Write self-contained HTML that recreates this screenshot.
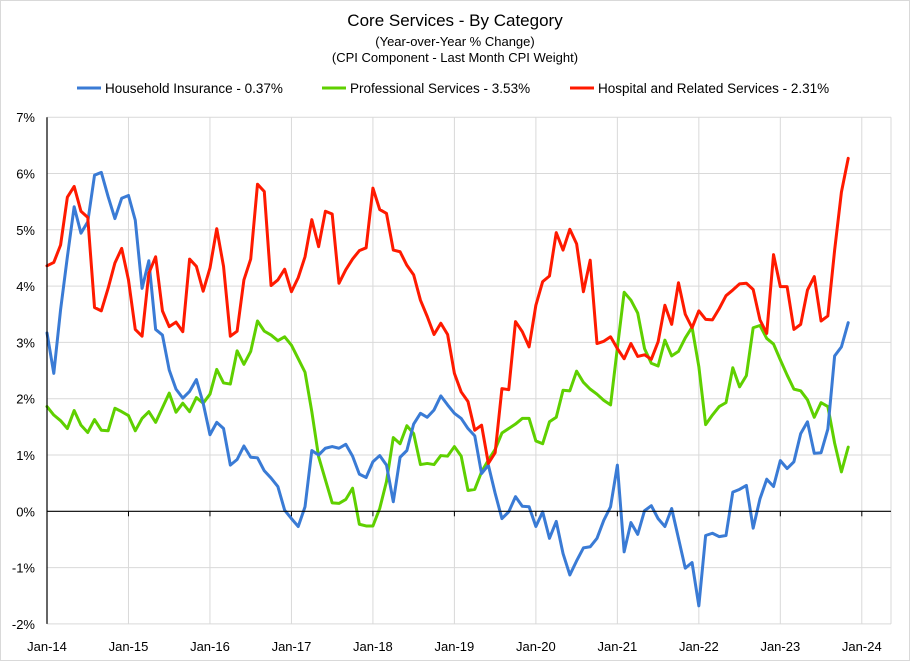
<!DOCTYPE html>
<html><head><meta charset="utf-8"><style>
html,body{margin:0;padding:0;background:#fff;}
svg{display:block;font-family:"Liberation Sans",Arial,sans-serif;}
</style></head><body>
<svg id="chart" width="910" height="661" viewBox="0 0 910 661" xmlns="http://www.w3.org/2000/svg">
<rect x="0.5" y="0.5" width="909" height="660" fill="#fff" stroke="#d9d9d9"/>
<text x="455" y="26" text-anchor="middle" font-size="17" fill="#000">Core Services  - By Category</text>
<text x="455" y="46" text-anchor="middle" font-size="13" fill="#000">(Year-over-Year % Change)</text>
<text x="455" y="62" text-anchor="middle" font-size="13" fill="#000">(CPI Component - Last Month CPI Weight)</text>
<g id="legend">
<line x1="77" y1="88" x2="101" y2="88" stroke="#3a7bd5" stroke-width="3"/>
<text x="105" y="93" font-size="13.5">Household Insurance - 0.37%</text>
<line x1="322" y1="88" x2="346" y2="88" stroke="#5fd000" stroke-width="3"/>
<text x="350" y="93" font-size="13.5">Professional Services - 3.53%</text>
<line x1="570" y1="88" x2="594" y2="88" stroke="#ff1a00" stroke-width="3"/>
<text x="598" y="93" font-size="13.5">Hospital and Related Services - 2.31%</text>
</g>
<g id="grid"></g>
<g id="series"></g>
<g id="axes"></g>
</svg>
<script>
const yTicks = [-2,-1,0,1,2,3,4,5,6,7];
const yTickLabels = ["-2%","-1%","0%","1%","2%","3%","4%","5%","6%","7%"];
const xTickMonths = [0,12,24,36,48,60,72,84,96,108,120];
const xTickLabels = ["Jan-14","Jan-15","Jan-16","Jan-17","Jan-18","Jan-19","Jan-20","Jan-21","Jan-22","Jan-23","Jan-24"];
const household = [3.17,2.45,3.58,4.52,5.41,4.94,5.14,5.97,6.02,5.59,5.2,5.56,5.61,5.17,3.96,4.45,3.23,3.13,2.51,2.17,2.01,2.13,2.34,1.92,1.36,1.58,1.47,0.82,0.92,1.16,0.96,0.95,0.72,0.59,0.44,0.02,-0.13,-0.27,0.08,1.08,1.0,1.12,1.15,1.12,1.19,0.98,0.66,0.6,0.88,0.99,0.82,0.17,0.96,1.08,1.55,1.74,1.67,1.8,2.05,1.89,1.74,1.65,1.47,1.34,0.67,0.82,0.32,-0.13,-0.01,0.26,0.09,0.08,-0.27,-0.01,-0.48,-0.18,-0.75,-1.13,-0.88,-0.65,-0.63,-0.48,-0.16,0.08,0.82,-0.72,-0.2,-0.41,0.01,0.1,-0.13,-0.27,0.05,-0.48,-1.01,-0.91,-1.68,-0.43,-0.39,-0.45,-0.43,0.34,0.39,0.46,-0.3,0.22,0.57,0.44,0.9,0.76,0.88,1.38,1.59,1.03,1.04,1.46,2.76,2.92,3.35];
const professional = [1.86,1.71,1.61,1.47,1.79,1.53,1.4,1.63,1.44,1.43,1.83,1.77,1.7,1.43,1.65,1.77,1.58,1.84,2.1,1.76,1.92,1.77,2.02,1.92,2.08,2.52,2.28,2.26,2.85,2.61,2.84,3.38,3.2,3.13,3.03,3.1,2.95,2.71,2.47,1.77,0.97,0.56,0.15,0.14,0.21,0.41,-0.23,-0.26,-0.26,0.05,0.53,1.31,1.2,1.52,1.38,0.83,0.85,0.83,0.99,0.98,1.15,0.98,0.37,0.39,0.7,0.91,1.1,1.39,1.47,1.55,1.65,1.65,1.25,1.2,1.59,1.67,2.15,2.14,2.49,2.29,2.17,2.08,1.97,1.89,2.9,3.89,3.75,3.52,2.89,2.63,2.58,3.04,2.76,2.84,3.08,3.27,2.57,1.54,1.71,1.86,1.93,2.55,2.21,2.41,3.26,3.3,3.07,2.97,2.69,2.42,2.17,2.14,1.98,1.67,1.93,1.86,1.21,0.7,1.14];
const hospital = [4.36,4.42,4.73,5.58,5.77,5.33,5.22,3.62,3.56,3.96,4.41,4.67,4.11,3.23,3.11,4.23,4.52,3.56,3.28,3.36,3.19,4.48,4.35,3.91,4.32,5.02,4.35,3.11,3.2,4.11,4.48,5.81,5.68,4.01,4.11,4.3,3.9,4.15,4.52,5.18,4.7,5.33,5.28,4.05,4.29,4.48,4.63,4.68,5.74,5.36,5.29,4.64,4.61,4.37,4.2,3.75,3.46,3.14,3.34,3.14,2.45,2.12,1.95,1.44,1.53,0.85,1.04,2.18,2.16,3.37,3.19,2.92,3.66,4.08,4.18,4.95,4.64,5.01,4.75,3.9,4.46,2.98,3.02,3.1,2.89,2.71,2.98,2.75,2.78,2.7,3.01,3.66,3.32,4.06,3.5,3.26,3.56,3.41,3.4,3.6,3.83,3.93,4.04,4.05,3.94,3.4,3.16,4.56,3.99,3.99,3.23,3.32,3.93,4.17,3.38,3.47,4.64,5.67,6.27];

const NS = "http://www.w3.org/2000/svg";
const X0 = 47, XR = 891, MPX = 6.79;
const Y0 = 511.3, YPX = 56.3;
function xScale(m){ return X0 + m*MPX; }
function yScale(v){ return Y0 - v*YPX; }
function mk(tag, attrs, parent){
  const e = document.createElementNS(NS, tag);
  for (const k in attrs) e.setAttribute(k, attrs[k]);
  parent.appendChild(e); return e;
}
const grid = document.getElementById('grid');
const axes = document.getElementById('axes');
const series = document.getElementById('series');

yTicks.forEach((t,i)=>{
  const y = yScale(t);
  if (t !== 0) {
    const g = mk('line',{x1:X0,x2:XR,y1:y,y2:y,stroke:'#d9d9d9','stroke-width':1},grid);
    
    
  }
  const lb = mk('text',{x:35,y:y+5,'text-anchor':'end','font-size':13,fill:'#000'},axes);
  lb.textContent = yTickLabels[i];
  
  
});
mk('line',{x1:XR,x2:XR,y1:yScale(7),y2:yScale(-2),stroke:'#d9d9d9','stroke-width':1},grid);
xTickMonths.forEach((m,i)=>{
  const x = xScale(m);
  if (m > 0) {
    const g = mk('line',{x1:x,x2:x,y1:yScale(7),y2:yScale(-2),stroke:'#d9d9d9','stroke-width':1},grid);
    
    
  }
  const tk = mk('line',{x1:x,x2:x,y1:Y0,y2:Y0+5,stroke:'#000','stroke-width':1},axes);
  
  
  const lb = mk('text',{x:x,y:651,'text-anchor':'middle','font-size':13,fill:'#000'},axes);
  lb.textContent = xTickLabels[i];
  
  
});
const za = mk('line',{x1:X0,x2:XR,y1:Y0,y2:Y0,stroke:'#000','stroke-width':1.2},axes);


const ya = mk('line',{x1:X0,x2:X0,y1:yScale(7),y2:yScale(-2),stroke:'#000','stroke-width':1.2},axes);



function drawLine(data, color, name){
  const pts = data.map((v,i)=>xScale(i).toFixed(2)+','+yScale(v).toFixed(2)).join(' ');
  const p = mk('polyline',{points:pts,fill:'none',stroke:color,'stroke-width':3,'stroke-linejoin':'round','stroke-linecap':'round'},series);
  
  
}
drawLine(professional,'#5fd000','professional-services-line');
drawLine(household,'#3a7bd5','household-insurance-line');
drawLine(hospital,'#ff1a00','hospital-services-line');
</script>
</body></html>
